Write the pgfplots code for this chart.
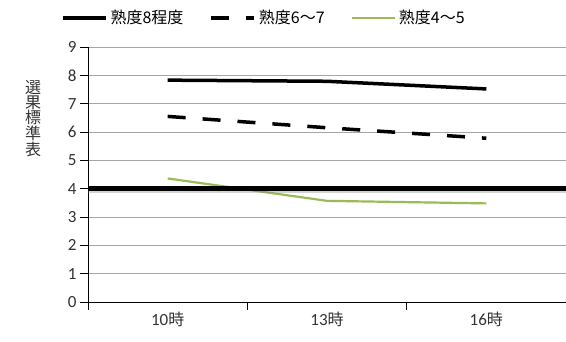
\documentclass[border=0pt]{standalone}
\usepackage{pgfplots}
\pgfplotsset{compat=1.18}
\usepackage{fontspec}
\setmainfont{Carlito}
\newfontfamily\cjk{Noto Sans CJK JP}
\definecolor{exgreen}{RGB}{155,187,89}
\begin{document}
\begin{tikzpicture}
\useasboundingbox (0,0) rectangle (566pt,342pt);
\begin{axis}[
  at={(88pt,40pt)}, anchor=south west,
  scale only axis, width=478pt, height=255pt,
  xmin=-0.5, xmax=2.5, ymin=0, ymax=9,
  axis x line=bottom, axis y line=left,
  axis line style={-, black, line width=0.8pt},
  xtick={0,1,2},
  xticklabels={10{\cjk\fontsize{16}{18}\selectfont 時},13{\cjk\fontsize{16}{18}\selectfont 時},16{\cjk\fontsize{16}{18}\selectfont 時}},
  major x tick style={draw=none},
  minor xtick={-0.5,0.5,1.5,2.5},
  minor tick length=8pt, major tick length=8pt,
  tick align=outside,
  tick style={black, line width=0.8pt},
  ytick={0,1,...,9},
  ymajorgrids, grid style={gray!70, line width=0.7pt},
  /pgf/number format/assume math mode=true,
  ticklabel style={font=\fontsize{17}{19}\selectfont, text=black!80},
  xticklabel style={yshift=1pt},
  legend style={at={(rel axis cs:0.368,1.114)}, anchor=center, draw=none,
    font=\fontsize{16}{18}\selectfont\cjk, legend columns=3,
    /tikz/every even column/.append style={column sep=24pt},
    /tikz/every odd column/.append style={column sep=1pt},
    inner sep=0pt},
  legend image code/.code={\draw[#1] (0pt,0pt) -- (43pt,0pt);},
  clip=false,
]
\addplot[black, line width=3.5pt] coordinates {(0,7.83) (1,7.79) (2,7.52)};
\addlegendentry{熟度8程度}
\addplot[black, line width=3.5pt, dash pattern=on 18pt off 17pt] coordinates {(0,6.55) (1,6.15) (2,5.78)};
\addlegendentry{熟度6～7}
\addplot[exgreen, line width=2.2pt] coordinates {(0,4.36) (1,3.57) (2,3.48)};
\addlegendentry{熟度4～5}
\addplot[gray, opacity=0.35, line width=5pt, forget plot] coordinates {(-0.5,3.93) (2.5,3.93)};
\addplot[black, line width=5pt, forget plot] coordinates {(-0.5,4) (2.5,4)};
\node[font=\fontsize{16}{14.7}\selectfont\cjk, align=center, text=black!80] at (rel axis cs:-0.115,0.72) {選\\果\\標\\準\\表};
\end{axis}
\end{tikzpicture}
\end{document}
